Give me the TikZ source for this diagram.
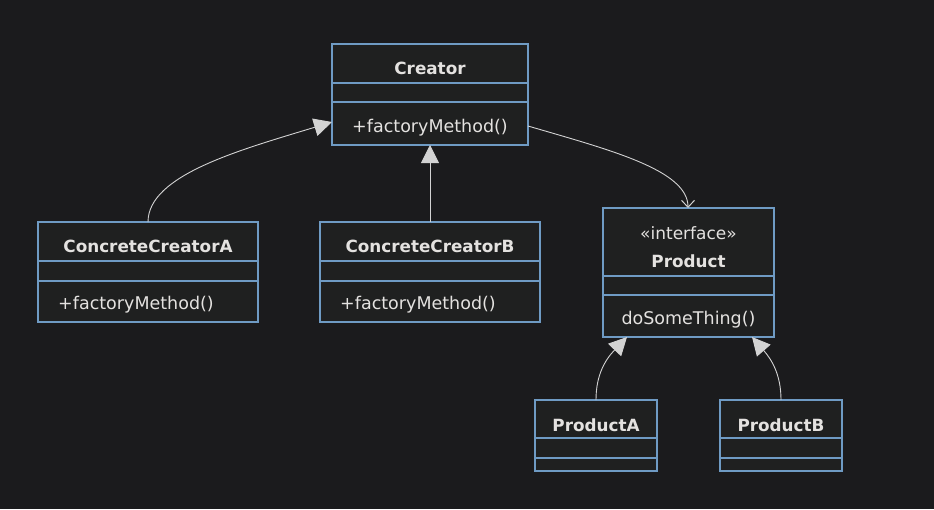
\documentclass[tikz,border=0pt]{standalone}
\usepackage{fontspec}
\setmainfont{DejaVu Sans}
\usetikzlibrary{arrows.meta}
\definecolor{bg}{HTML}{1B1B1D}
\definecolor{boxfill}{HTML}{1F2020}
\definecolor{boxline}{HTML}{6F9BC4}
\definecolor{txt}{HTML}{E4E2E0}
\definecolor{edge}{HTML}{D3D3D3}
\tikzset{
  classbox/.style={draw=boxline, fill=boxfill, line width=1.3pt, inner sep=0pt},
  divider/.style={draw=boxline, line width=1.3pt},
  title/.style={text=txt, font=\fontsize{16.8}{19}\selectfont\bfseries, inner sep=0pt},
  member/.style={text=txt, font=\fontsize{17.5}{20}\selectfont, inner sep=0pt},
  stereo/.style={text=txt, font=\fontsize{17}{19}\selectfont, inner sep=0pt},
  inherit/.style={draw=edge, line width=0.9pt, -{Triangle[length=18pt,width=18pt,fill=edge]}},
  assoc/.style={draw=edge, line width=0.9pt, -{Straight Barb[length=7pt,width=13pt,line width=1pt]}},
}
\begin{document}
\begin{tikzpicture}[x=1pt,y=-1pt]
\fill[bg] (0,0) rectangle (934,509);
\useasboundingbox (0,0) rectangle (934,509);

% Creator
\node[classbox, minimum width=196pt, minimum height=101pt] (creator) at (430,94.5) {};
\draw[divider] (332,83) -- (528,83);
\draw[divider] (332,102) -- (528,102);
\node[title] (creatorT) at (430,68) {Creator};
\node[member] (creatorM) at (430,128) {+factoryMethod()};

% ConcreteCreatorA
\node[classbox, minimum width=220pt, minimum height=100pt] (cca) at (148,272) {};
\draw[divider] (38,261) -- (258,261);
\draw[divider] (38,281) -- (258,281);
\node[title] (ccaT) at (148,246) {ConcreteCreatorA};
\node[member, anchor=west] (ccaM) at (58,305) {+factoryMethod()};

% ConcreteCreatorB
\node[classbox, minimum width=220pt, minimum height=100pt] (ccb) at (430,272) {};
\draw[divider] (320,261) -- (540,261);
\draw[divider] (320,281) -- (540,281);
\node[title] (ccbT) at (430,246) {ConcreteCreatorB};
\node[member, anchor=west] (ccbM) at (340,305) {+factoryMethod()};

% Product
\node[classbox, minimum width=171pt, minimum height=129pt] (product) at (688.5,272.5) {};
\draw[divider] (603,276) -- (774,276);
\draw[divider] (603,295) -- (774,295);
\node[stereo] (productS) at (688.5,233) {«interface»};
\node[title] (productT) at (688.5,261) {Product};
\node[member] (productM) at (688.5,320) {doSomeThing()};

% ProductA
\node[classbox, minimum width=122pt, minimum height=71pt] (pa) at (596,435.5) {};
\draw[divider] (535,438) -- (657,438);
\draw[divider] (535,458) -- (657,458);
\node[title] (paT) at (596,425) {ProductA};

% ProductB
\node[classbox, minimum width=122pt, minimum height=71pt] (pb) at (781,435.5) {};
\draw[divider] (720,438) -- (842,438);
\draw[divider] (720,458) -- (842,458);
\node[title] (pbT) at (781,425) {ProductB};

% edges
\coordinate (ccaTop) at (148,222);
\coordinate (creatorL) at (332,122);
\draw[inherit] (ccaTop) .. controls (148,175) and (240,150) .. (creatorL);

\coordinate (ccbTop) at (430,222);
\coordinate (creatorB) at (430,145);
\draw[inherit] (ccbTop) -- (creatorB);

\coordinate (creatorR) at (528,126);
\coordinate (productTop) at (688,208);
\draw[assoc] (creatorR) .. controls (610,150) and (688,170) .. (productTop);

\coordinate (paTop) at (596,400);
\coordinate (productBL) at (627,337);
\draw[inherit] (paTop) .. controls (596,375) and (605,360) .. (productBL);

\coordinate (pbTop) at (781,400);
\coordinate (productBR) at (752,337);
\draw[inherit] (pbTop) .. controls (781,375) and (772,360) .. (productBR);
\end{tikzpicture}
\end{document}
